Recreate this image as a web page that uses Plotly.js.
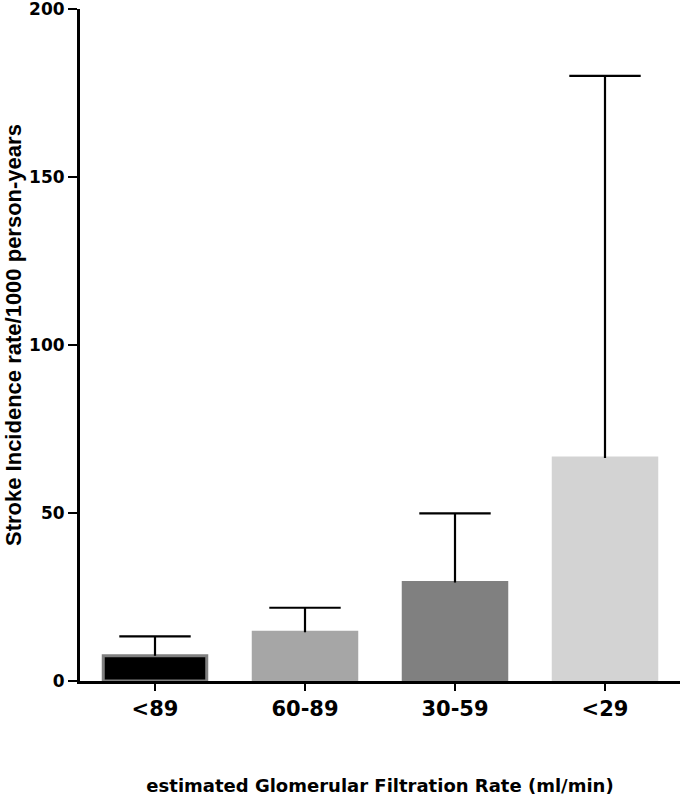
<!DOCTYPE html>
<html><head><meta charset="utf-8">
<script src="https://cdn.plot.ly/plotly-3.0.1.min.js"></script>
<style>html,body{margin:0;padding:0;background:#fff}</style>
</head><body><div id="chart" style="width:686px;height:800px"></div>
<script>
const categories = ["<89", "60-89", "30-59", "<29"];
const rates = [7.5, 14.5, 29.3, 66.4];
const upperErr = [5.8, 7.3, 20.6, 113.7];
const barColors = ["#000000", "#a6a6a6", "#808080", "#d3d3d3"];
const barOutline = ["#808080", "#a6a6a6", "#808080", "#d3d3d3"];
const yTicks = [0, 50, 100, 150, 200];

const wide = "DejaVu Sans, sans-serif";
const arial = "Liberation Sans, Arial, sans-serif";
const errTop = rates.map((r, i) => r + upperErr[i]);

Plotly.newPlot("chart", [{
  type: "bar",
  x: categories,
  y: rates,
  marker: {color: barColors, line: {color: barOutline, width: 3}},
  hoverinfo: "skip"
}, {
  type: "scatter",
  mode: "markers",
  x: categories,
  y: errTop,
  marker: {symbol: "line-ew", size: 51, color: "#000", line: {color: "#000", width: 2.2}},
  error_y: {type: "data", symmetric: false, array: rates.map(() => 0), arrayminus: upperErr,
            color: "#000", thickness: 2.2, width: 0},
  cliponaxis: false,
  hoverinfo: "skip"
}], {
  width: 686, height: 800,
  margin: {l: 80, r: 6, t: 9, b: 119},
  bargap: 0.31,
  paper_bgcolor: "#fff", plot_bgcolor: "#fff",
  showlegend: false,
  xaxis: {
    showline: true, linecolor: "#000", linewidth: 3,
    ticks: "outside", ticklen: 7, tickwidth: 2.5, tickcolor: "#000",
    tickfont: {family: wide, size: 21, color: "#000", weight: "bold"},
    title: {text: "estimated Glomerular Filtration Rate (ml/min)", standoff: 60,
            font: {family: wide, size: 18, color: "#000", weight: "bold"}},
    showgrid: false, zeroline: false
  },
  yaxis: {
    range: [0, 200], tickvals: yTicks, ticktext: yTicks.map(String),
    showline: true, linecolor: "#000", linewidth: 3,
    ticks: "outside", ticklen: 9, tickwidth: 2.5, tickcolor: "#000",
    ticklabeloverflow: "allow",
    tickfont: {family: wide, size: 17, color: "#000", weight: "bold"},
    showgrid: false, zeroline: false
  },
  annotations: [{
    text: "Stroke Incidence rate/1000 person-years",
    xref: "paper", yref: "paper",
    x: (13 - 80) / 600, y: (681 - 335) / 672,
    xanchor: "center", yanchor: "middle",
    textangle: -90, showarrow: false,
    font: {family: arial, size: 22, color: "#000", weight: "bold"}
  }]
}, {displayModeBar: false, staticPlot: true});
</script></body></html>
